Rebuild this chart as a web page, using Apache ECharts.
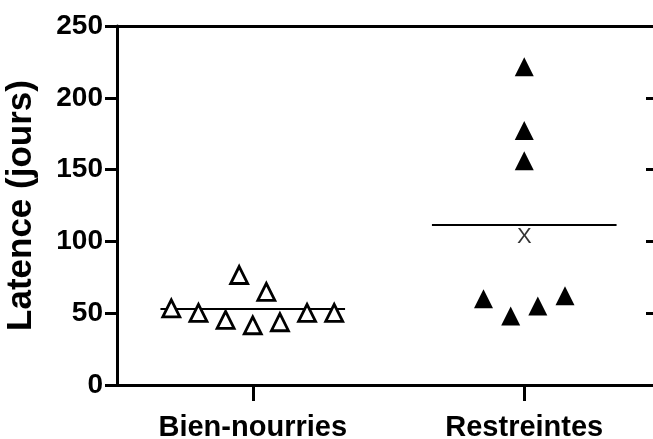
<!DOCTYPE html>
<html>
<head>
<meta charset="utf-8">
<script src="https://cdn.jsdelivr.net/npm/echarts@6/dist/echarts.min.js"></script>
<style>
  html, body { margin: 0; padding: 0; background: #fff; }
  #chart { width: 653px; height: 439px; }
</style>
</head>
<body>
<div id="chart"></div>
<script>
// groupes
const categories = ['Bien-nourries', 'Restreintes'];
const yTicks = [0, 50, 100, 150, 200, 250];

// latence (jours)
const bienValues = [53.4, 50.2, 45.3, 41.6, 43.7, 50.2, 50.2, 76.6, 64.8];
const bienJitter = [-0.3, -0.2, -0.1, 0, 0.1, 0.2, 0.3, -0.05, 0.05];
const restValues = [221.7, 177.2, 156.1, 60.1, 48.1, 55.1, 62.2];
const restJitter = [0, 0, 0, -0.15, -0.05, 0.05, 0.15];
const restMarkX = [103];  // le "X" sous la moyenne

const mean = arr => arr.reduce((a, b) => a + b, 0) / arr.length;
const halfLine = 0.34;

const font = 'Liberation Sans, Arial, sans-serif';

function points(center, jitter, values) {
  return values.map((v, i) => [center + jitter[i], v]);
}
function meanLine(center, values) {
  const m = mean(values);
  return [[center - halfLine, m], [center + halfLine, m]];
}

const chart = echarts.init(document.getElementById('chart'));

chart.setOption({
  animation: false,
  // le cadre dépasse un peu à droite de l'image
  grid: { left: 117, width: 543, top: 26, bottom: 54, outerBoundsMode: 'none', containLabel: false },
  xAxis: [
    {
      type: 'value', min: 0, max: 2, position: 'bottom',
      axisLine: { show: true, lineStyle: { color: '#000', width: 3 } },
      axisTick: { show: false }, axisLabel: { show: false }, splitLine: { show: false }
    },
    {
      type: 'category', data: categories, position: 'bottom',
      axisLine: { show: false },
      axisTick: { show: true, alignWithLabel: true, length: 16, lineStyle: { color: '#000', width: 3 } },
      axisLabel: { color: '#000', fontFamily: font, fontWeight: 'bold', fontSize: 29, margin: 28 },
      splitLine: { show: false }
    },
    {
      type: 'value', min: 0, max: 2, position: 'top',
      axisLine: { show: true, lineStyle: { color: '#000', width: 3 } },
      axisTick: { show: false }, axisLabel: { show: false }, splitLine: { show: false }
    }
  ],
  yAxis: [
    {
      type: 'value', min: yTicks[0], max: yTicks[yTicks.length - 1], interval: 50, position: 'left',
      name: 'Latence (jours)', nameLocation: 'middle', nameRotate: 90, nameGap: 78,
      nameTextStyle: { color: '#000', fontFamily: font, fontWeight: 'bold', fontSize: 35 },
      axisLine: { show: true, lineStyle: { color: '#000', width: 3 } },
      axisTick: { show: true, length: 12, lineStyle: { color: '#000', width: 3 } },
      axisLabel: { color: '#000', fontFamily: font, fontWeight: 'bold', fontSize: 28, margin: 14 },
      splitLine: { show: false }
    },
    {
      type: 'value', min: yTicks[0], max: yTicks[yTicks.length - 1], interval: 50, position: 'right',
      axisLine: { show: true, onZero: false, lineStyle: { color: '#000', width: 3 } },
      axisTick: { show: true, inside: true, length: 14, lineStyle: { color: '#000', width: 3 } },
      axisLabel: { show: false },
      splitLine: { show: false }
    }
  ],
  series: [
    {
      type: 'line', xAxisIndex: 0, yAxisIndex: 0,
      data: meanLine(0.5, bienValues), showSymbol: false, symbol: 'none',
      lineStyle: { color: '#000', width: 2 }, z: 1
    },
    {
      type: 'line', xAxisIndex: 0, yAxisIndex: 0,
      data: meanLine(1.5, restValues), showSymbol: false, symbol: 'none',
      lineStyle: { color: '#000', width: 2 }, z: 1
    },
    {
      type: 'scatter', xAxisIndex: 0, yAxisIndex: 0,
      data: points(0.5, bienJitter, bienValues),
      symbol: 'triangle', symbolSize: [17, 17],
      itemStyle: { color: '#fff', borderColor: '#000', borderWidth: 2.8, opacity: 1 }, z: 3
    },
    {
      type: 'scatter', xAxisIndex: 0, yAxisIndex: 0,
      data: points(1.5, restJitter, restValues),
      symbol: 'triangle', symbolSize: [19, 19],
      itemStyle: { color: '#000', opacity: 1 }, z: 3
    },
    {
      type: 'scatter', xAxisIndex: 0, yAxisIndex: 0,
      data: restMarkX.map(v => [1.5, v]),
      symbolSize: 0,
      label: { show: true, position: 'inside', formatter: 'X', color: '#000', fontFamily: font, fontSize: 22 },
      z: 3
    }
  ]
});
</script>
</body>
</html>
